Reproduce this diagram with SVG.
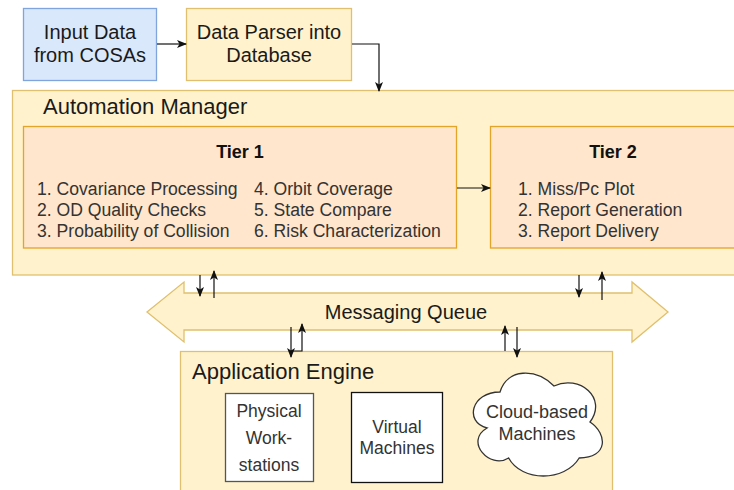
<svg xmlns="http://www.w3.org/2000/svg" width="734" height="490" viewBox="0 0 734 490">
<style>
  text { font-family: "Liberation Sans", Arial, sans-serif; }
  .yel { fill: #fff2cc; stroke: #e0c06e; stroke-width: 1.3; }
  .org { fill: #ffe6cc; stroke: #e3a42a; stroke-width: 1.3; }
  .blu { fill: #dae8fc; stroke: #7fa5dc; stroke-width: 1.3; }
  .wht { fill: #ffffff; stroke: #333333; stroke-width: 1.3; }
  .t20 { font-size: 20px; fill: #1a1a1a; }
  .t22 { font-size: 22px; fill: #1a1a1a; }
  .title { font-size: 18px; font-weight: bold; fill: #111; }
  .list { font-size: 17.6px; fill: #333; }
  .small { font-size: 17.5px; fill: #333; }
  .conn { fill: none; stroke: #111; stroke-width: 1.2; }
</style>
<defs>
  <marker id="arr" viewBox="0 0 10 8" refX="9" refY="4" markerWidth="10" markerHeight="8" markerUnits="userSpaceOnUse" orient="auto">
    <path d="M0,0 L10,4 L0,8 L2.5,4 Z" fill="#111"/>
  </marker>
</defs>
<rect width="734" height="490" fill="#ffffff"/>

<g id="input-data">
  <rect class="blu" x="23.5" y="8.5" width="133" height="72"/>
  <text class="t20" x="90" y="39" text-anchor="middle">Input Data</text>
  <text class="t20" x="90" y="62" text-anchor="middle">from COSAs</text>
</g>

<g id="data-parser">
  <rect class="yel" x="186.5" y="8.5" width="165" height="72"/>
  <text class="t20" x="269" y="39" text-anchor="middle">Data Parser into</text>
  <text class="t20" x="269" y="62" text-anchor="middle">Database</text>
</g>

<g id="automation-manager">
  <rect class="yel" x="12.5" y="90.5" width="730" height="184.5"/>
  <text class="t22" x="43" y="114">Automation Manager</text>
</g>

<g id="tier1">
  <rect class="org" x="23.5" y="126.5" width="433" height="121.5"/>
  <text class="title" x="240" y="158" text-anchor="middle">Tier 1</text>
  <text class="list" x="37" y="195">1. Covariance Processing</text>
  <text class="list" x="37" y="216">2. OD Quality Checks</text>
  <text class="list" x="37" y="237">3. Probability of Collision</text>
  <text class="list" x="254" y="195">4. Orbit Coverage</text>
  <text class="list" x="254" y="216">5. State Compare</text>
  <text class="list" x="254" y="237">6. Risk Characterization</text>
</g>

<g id="tier2">
  <rect class="org" x="490.5" y="126.5" width="260" height="121.5"/>
  <text class="title" x="613" y="158" text-anchor="middle">Tier 2</text>
  <text class="list" x="518" y="195">1. Miss/Pc Plot</text>
  <text class="list" x="518" y="216">2. Report Generation</text>
  <text class="list" x="518" y="237">3. Report Delivery</text>
</g>

<g id="messaging-queue">
  <path class="yel" d="M147,312 L184,282 L184,293 L632,293 L632,282 L668,312 L632,342 L632,330 L184,330 L184,342 Z"/>
  <text class="t20" x="406" y="319" text-anchor="middle">Messaging Queue</text>
</g>

<g id="application-engine">
  <rect class="yel" x="180.5" y="351.5" width="432" height="150"/>
  <text class="t22" x="192" y="379">Application Engine</text>
</g>

<g id="physical-workstations">
  <rect class="wht" x="225.5" y="393.5" width="88" height="88" style="stroke:#555"/>
  <text class="small" x="269" y="417" text-anchor="middle">Physical</text>
  <text class="small" x="269" y="444" text-anchor="middle">Work-</text>
  <text class="small" x="269" y="471" text-anchor="middle">stations</text>
</g>

<g id="virtual-machines">
  <rect class="wht" x="351.5" y="392.5" width="91" height="90" style="stroke:#111"/>
  <text class="small" x="397" y="433" text-anchor="middle">Virtual</text>
  <text class="small" x="397" y="454" text-anchor="middle">Machines</text>
</g>

<g id="cloud-machines">
  <path class="wht" d="M500,392 C471.2,392 464,422 487.04,428 C464,441.2 489.92,470 508.64,458 C521.6,482 564.8,482 579.2,458 C608,458 608,434 590,422 C608,398 579.2,374 554,386 C536,368 507.2,368 500,392 Z"/>
  <text class="small" x="537" y="418" text-anchor="middle" style="font-size:18px">Cloud-based</text>
  <text class="small" x="537" y="440" text-anchor="middle" style="font-size:18px">Machines</text>
</g>

<g id="connectors">
  <path class="conn" d="M157,44 L186,44" marker-end="url(#arr)"/>
  <path class="conn" d="M352,44 L379,44 L379,91" marker-end="url(#arr)"/>
  <path class="conn" d="M457,188 L490,188" marker-end="url(#arr)"/>
  <path class="conn" d="M200,275 L200,296" marker-end="url(#arr)"/>
  <path class="conn" d="M214,298 L214,271" marker-end="url(#arr)"/>
  <path class="conn" d="M579,275 L579,297" marker-end="url(#arr)"/>
  <path class="conn" d="M602,300 L602,272" marker-end="url(#arr)"/>
  <path class="conn" d="M291,327 L291,357" marker-end="url(#arr)"/>
  <path class="conn" d="M291,351 L302,351 L302,324" marker-end="url(#arr)"/>
  <path class="conn" d="M505,351 L505,326" marker-end="url(#arr)"/>
  <path class="conn" d="M517,327 L517,357" marker-end="url(#arr)"/>
</g>
</svg>
